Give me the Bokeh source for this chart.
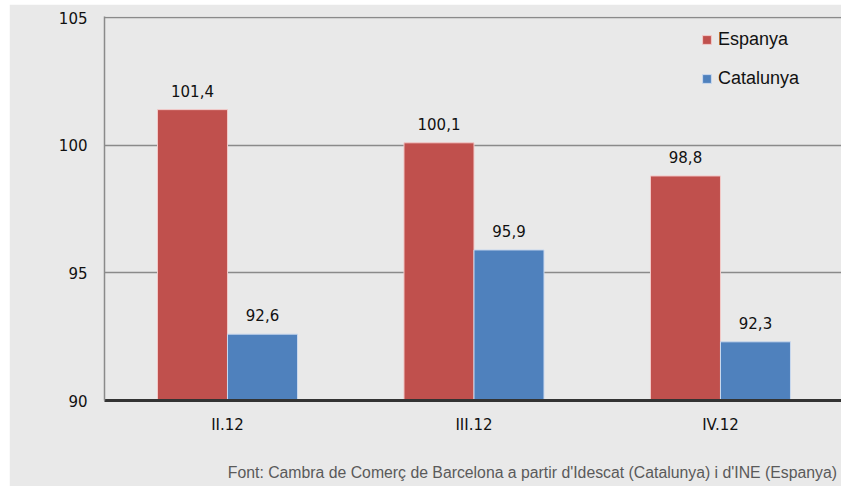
from bokeh.plotting import figure
from bokeh.models import (ColumnDataSource, FixedTicker, Range1d, Legend, LegendItem, LinearAxis)
from bokeh.core.properties import value
from bokeh.embed import file_html
from bokeh.resources import INLINE

categories = ["II.12", "III.12", "IV.12"]
espanya = [101.4, 100.1, 98.8]
catalunya = [92.6, 95.9, 92.3]
y_ticks = [90, 95, 100, 105]
source_note = "Font: Cambra de Comerç de Barcelona a partir d'Idescat (Catalunya) i d'INE (Espanya)"

def fmt(v):
    return ("%.1f" % v).replace(".", ",")

pos = [i + 1 for i in range(len(categories))]
bw = 0.284
src_e = ColumnDataSource(dict(x=[p - bw / 2 for p in pos], top=espanya, lab=[fmt(v) for v in espanya]))
src_c = ColumnDataSource(dict(x=[p + bw / 2 for p in pos], top=catalunya, lab=[fmt(v) for v in catalunya]))

BG = "#e9e9e9"
p = figure(width=832, height=482, output_backend="svg", toolbar_location=None,
           x_range=Range1d(0.501, 3.491), y_range=Range1d(90, 105.05),
           min_border_left=95, min_border_right=0, min_border_top=12, min_border_bottom=86,
           background_fill_color=BG, border_fill_color=BG)
p.margin = (4, 0, 0, 9)
p.outline_line_color = None

r_e = p.vbar(x="x", top="top", bottom=90, width=bw, source=src_e,
             fill_color="#C0504D", line_color="#f2c9c8", line_width=1)
r_c = p.vbar(x="x", top="top", bottom=90, width=bw, source=src_c,
             fill_color="#4F81BD", line_color="#c9d8ee", line_width=1)

for s in (src_e, src_c):
    p.text(x="x", y="top", text="lab", source=s, text_align="center",
           text_baseline="alphabetic", y_offset=-19,
           text_font=value("DejaVu Sans"), text_font_size="15px", text_color="#111111")

p.xgrid.grid_line_color = None
p.ygrid.grid_line_color = "#8a8a8a"
p.ygrid.grid_line_width = 1.5
p.ygrid.ticker = FixedTicker(ticks=y_ticks)

p.yaxis.ticker = FixedTicker(ticks=y_ticks)
p.yaxis.axis_line_color = "#8a8a8a"
p.yaxis.axis_line_width = 1.5
p.yaxis.major_tick_line_color = None
p.yaxis.minor_tick_line_color = None
p.yaxis.major_label_standoff = 11
p.yaxis.major_label_text_font = "DejaVu Sans"
p.yaxis.major_label_text_font_size = "15px"
p.yaxis.major_label_text_color = "#111111"

p.xaxis.ticker = FixedTicker(ticks=pos)
p.xaxis.major_label_overrides = {pp: c for pp, c in zip(pos, categories)}
p.xaxis.axis_line_color = "#333333"
p.xaxis.axis_line_width = 3
p.xaxis.major_tick_line_color = None
p.xaxis.minor_tick_line_color = None
p.xaxis.major_label_standoff = 9
p.xaxis.major_label_text_font = "DejaVu Sans"
p.xaxis.major_label_text_font_size = "15px"
p.xaxis.major_label_text_color = "#111111"

# source note as a label-only axis below the category axis
note_x = 2.237
note_axis = LinearAxis(ticker=FixedTicker(ticks=[note_x]),
                       major_label_overrides={note_x: source_note},
                       axis_line_color=None, major_tick_line_color=None,
                       minor_tick_line_color=None, major_label_standoff=21,
                       major_label_text_font="Liberation Sans",
                       major_label_text_font_size="15.8px",
                       major_label_text_color="#5a5a5a")
p.add_layout(note_axis, "below")

legend = Legend(items=[LegendItem(label="Espanya", renderers=[r_e]),
                       LegendItem(label="Catalunya", renderers=[r_c])],
                location=(597, 311), orientation="vertical",
                glyph_width=11, glyph_height=11, label_standoff=6,
                label_height=20, spacing=18, padding=0, margin=0,
                label_text_font="Liberation Sans", label_text_font_size="18px",
                label_text_color="#111111",
                border_line_color=None, background_fill_alpha=0)
p.add_layout(legend)

open("out.html", "w").write(file_html(p, INLINE))
